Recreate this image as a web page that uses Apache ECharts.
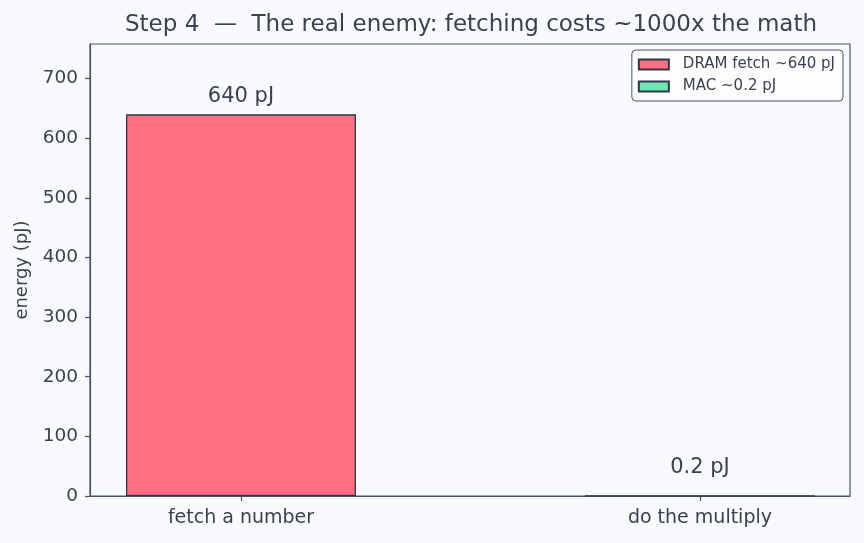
<!DOCTYPE html>
<html><head><meta charset="utf-8">
<script src="https://cdn.jsdelivr.net/npm/echarts@6/dist/echarts.min.js"></script>
<style>html,body{margin:0;padding:0;background:#f9fafd;}#c{width:864px;height:543px;}</style>
</head><body><div id="c"></div>
<script>
const categories = ['fetch a number', 'do the multiply'];
const seriesNames = ['DRAM fetch ~640 pJ', 'MAC ~0.2 pJ'];
const dramValues = [640, null];
const macValues = [null, 0.2];
const valueLabels = ['640 pJ', '0.2 pJ'];
const yTicks = [0, 100, 200, 300, 400, 500, 600, 700];
const titleText = 'Step 4  \u2014  The real enemy: fetching costs ~1000x the math';
const yName = 'energy (pJ)';

const txt = '#3a4150';
const spine = '#4a5263';
const font = 'DejaVu Sans';

function mk(vals) {
  const out = [];
  vals.forEach((v, i) => { if (v !== null) out.push([i, v]); });
  return out;
}

const chart = echarts.init(document.getElementById('c'), null, {renderer: 'canvas'});
chart.setOption({
  backgroundColor: '#f9fafd',
  animation: false,
  textStyle: {fontFamily: font},
  grid: {left: 90, right: 14, top: 44, bottom: 47, show: true, borderColor: spine, borderWidth: 1.2, containLabel: false},
  graphic: [{
    type: 'text', x: 471, y: 25,
    style: {text: titleText, fill: txt, font: '23px "DejaVu Sans"', textAlign: 'center', textVerticalAlign: 'middle'}
  }],
  legend: {
    orient: 'vertical', right: 21, top: 50,
    itemWidth: 30, itemHeight: 10, itemGap: 7,
    padding: [7, 8, 7, 6],
    backgroundColor: '#fdfdfe', borderColor: spine, borderWidth: 1, borderRadius: 4,
    textStyle: {color: txt, fontSize: 15, fontFamily: font, padding: [0, 0, 0, 9]},
    icon: 'rect',
    data: seriesNames
  },
  xAxis: {
    type: 'value', min: -0.329, max: 1.327,
    splitLine: {show: false},
    axisLine: {show: true, onZero: false, lineStyle: {color: spine, width: 1.2}},
    axisTick: {show: true, customValues: [0, 1], length: 5, inside: false, lineStyle: {color: spine, width: 1.2}},
    axisLabel: {customValues: [0, 1], color: txt, fontSize: 19, margin: 13, fontFamily: font,
      formatter: v => categories[Math.round(v)]}
  },
  yAxis: {
    type: 'value', min: 0, max: 758,
    name: yName, nameLocation: 'middle', nameGap: 58, nameRotate: 90,
    nameTextStyle: {color: txt, fontSize: 18, fontFamily: font},
    splitLine: {show: false},
    axisLine: {show: true, onZero: false, lineStyle: {color: spine, width: 1.2}},
    axisTick: {show: true, customValues: yTicks, length: 5, lineStyle: {color: spine, width: 1.2}},
    axisLabel: {customValues: yTicks, color: txt, fontSize: 18.5, margin: 12, fontFamily: font}
  },
  series: [
    {
      name: seriesNames[0], type: 'bar', barWidth: 230, barGap: '-100%',
      itemStyle: {color: '#ff6f83', borderColor: '#2f3747', borderWidth: 1.3},
      label: {show: true, position: 'top', distance: 7, color: txt, fontSize: 21, fontFamily: font,
        formatter: () => valueLabels[0]},
      data: mk(dramValues)
    },
    {
      name: seriesNames[1], type: 'bar', barWidth: 230, barGap: '-100%',
      itemStyle: {color: '#6ee7b7', borderColor: '#2f3747', borderWidth: 1.3},
      label: {show: true, position: 'top', distance: 17, color: txt, fontSize: 21, fontFamily: font,
        formatter: () => valueLabels[1]},
      data: mk(macValues)
    }
  ]
});
</script></body></html>
